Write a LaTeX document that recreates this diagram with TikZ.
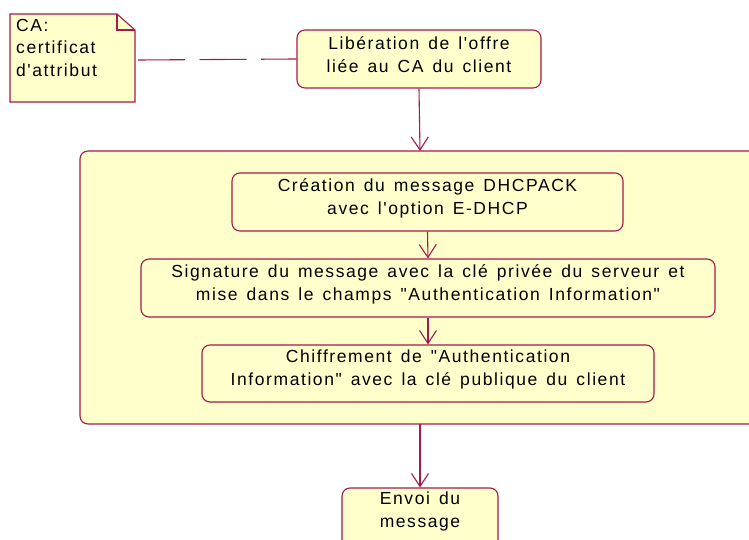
\documentclass[tikz,border=0pt]{standalone}
\usepackage{fontspec}
\setmainfont{Liberation Sans}[Ligatures=TeXOff,LetterSpace=9,WordSpace=1.4]
\usetikzlibrary{arrows.meta}
\definecolor{bord}{RGB}{165,25,75}
\definecolor{fillc}{RGB}{255,255,204}
\begin{document}
\begin{tikzpicture}[x=1pt,y=-1pt,
  box/.style={draw=bord,fill=fillc,line width=1.1pt,rounded corners=8pt,inner sep=0pt},
  txt/.style={font=\fontsize{17.5}{23}\selectfont,align=center,inner sep=0pt,text=black},
  flow/.style={draw=bord,line width=1.1pt,-{Straight Barb[length=13pt,width=17pt,line width=1.1pt]}},
  link/.style={draw=bord,line width=1.1pt,dash pattern=on 47pt off 14.5pt}]
\useasboundingbox (0,0) rectangle (749,540);
% note
\draw[draw=bord,fill=fillc,line width=1.1pt] (10,14) -- (117,14) -- (135,30) -- (135,102) -- (10,102) -- cycle;
\draw[draw=bord,line width=1.1pt] (117,14) -- (117,30) -- (135,30);
\node[anchor=north west,inner sep=0pt,align=left,font=\fontsize{17.5}{22.5}\selectfont] (note) at (16,19) {CA:\\certificat\\d'attribut};
\coordinate (noteR) at (138,60);
% liberation
\node[box,minimum width=244pt,minimum height=58pt] (lib) at (419,59) {};
\node[txt] (libt) at (419,55) {Libération de l'offre\\liée au CA du client};
\draw[link] (noteR) -- (lib.west);
% big box
\draw[box] (80,151) rectangle (770,424);
\coordinate (bigtop) at (420,151);
\coordinate (bigbot) at (420,424);
% inner boxes
\node[box,minimum width=391pt,minimum height=58pt] (b1) at (427.5,202) {};
\node[txt] (b1t) at (427.5,198) {Création du message DHCPACK\\avec l'option E-DHCP};
\node[box,minimum width=574pt,minimum height=58pt] (b2) at (428,288) {};
\node[txt] (b2t) at (428,284) {Signature du message avec la clé privée du serveur et\\mise dans le champs "Authentication Information"};
\node[box,minimum width=452pt,minimum height=57pt] (b3) at (428,373.5) {};
\node[txt] (b3t) at (428,369.5) {Chiffrement de "Authentication\\Information" avec la clé publique du client};
% envoi
\node[box,minimum width=156pt,minimum height=60pt] (env) at (420,518) {};
\node[txt] (envt) at (420,511) {Envoi du\\message};
% arrows
\draw[flow] (lib.south) -- (bigtop);
\draw[flow] (b1.south) -- (b2.north);
\draw[flow] (b2.south) -- (b3.north);
\draw[flow] (bigbot) -- (env.north);
\end{tikzpicture}
\end{document}
